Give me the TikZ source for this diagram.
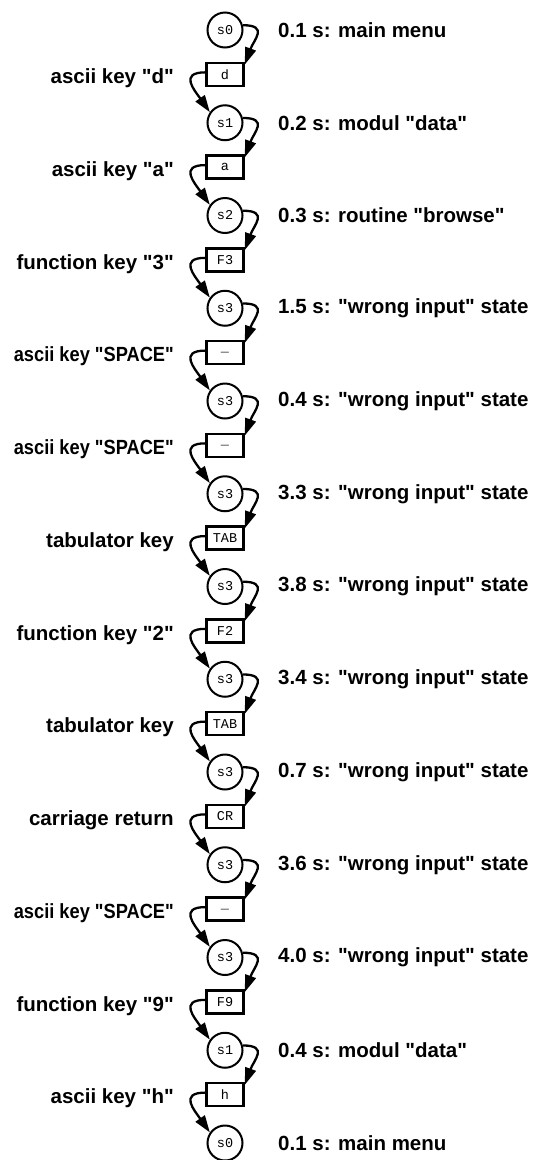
\documentclass[tikz,border=0pt]{standalone}
\usepackage{fontspec}
\usetikzlibrary{arrows.meta}
\newfontfamily\lblfont{Liberation Sans}
\newfontfamily\keyfont{Liberation Mono}
\begin{document}
\begin{tikzpicture}[x=1pt,y=1pt,
  state/.style={circle, draw, line width=2pt, minimum size=35pt, inner sep=0pt,
    font=\keyfont\fontsize{13.5}{14}\selectfont},
  keybox/.style={rectangle, draw, line width=2.6pt, minimum width=37pt, minimum height=23pt, inner sep=0pt,
    font=\keyfont\fontsize{13.5}{14}\selectfont},
  rlabel/.style={anchor=west, inner sep=0pt, font=\lblfont\bfseries\fontsize{20.5}{22}\selectfont},
  llabel/.style={anchor=east, inner sep=0pt, font=\lblfont\bfseries\fontsize{20.5}{22}\selectfont},
  arr/.style={line width=2.3pt, -{Triangle[length=17pt,width=11pt]}}]
\useasboundingbox (0,0) rectangle (537,-1160);
\def\cx{225}
\def\spc{{\addfontfeature{FakeStretch=0.89}ascii key "SPACE"}}
\foreach \i/\s/\t in {0/s0/0.1 s: main menu,
  1/s1/0.2 s: modul "data",
  2/s2/0.3 s: routine "browse",
  3/s3/1.5 s: "wrong input" state,
  4/s3/0.4 s: "wrong input" state,
  5/s3/3.3 s: "wrong input" state,
  6/s3/3.8 s: "wrong input" state,
  7/s3/3.4 s: "wrong input" state,
  8/s3/0.7 s: "wrong input" state,
  9/s3/3.6 s: "wrong input" state,
  10/s3/4.0 s: "wrong input" state,
  11/s1/0.4 s: modul "data",
  12/s0/0.1 s: main menu}{
  \node[state] (s\i) at (\cx,{-(30+92.75*\i)}) {\s};
  \node[rlabel] (r\i) at (278,{-(30+92.75*\i)}) {\t};
}
\foreach \i/\k/\t in {0/d/ascii key "d",
  1/a/ascii key "a",
  2/F3/function key "3",
  3/\_/\spc,
  4/\_/\spc,
  5/TAB/tabulator key,
  6/F2/function key "2",
  7/TAB/tabulator key,
  8/CR/carriage return,
  9/\_/\spc,
  10/F9/function key "9",
  11/h/ascii key "h"}{
  \node[keybox] (k\i) at (\cx,{-(30+92.75*(\i+0.5)-2)}) {\k};
  \node[llabel] (l\i) at (174,{-(30+92.75*(\i+0.5)+2)}) {\t};
}
\foreach \i [evaluate=\i as \j using int(\i+1)] in {0,...,11}{
  \draw[arr] (s\i.15) to[out=0,in=70,looseness=1.7] ([yshift=-3pt]k\i.north east);
  \draw[arr] ([yshift=2pt]k\i.west) to[out=180,in=125,looseness=1.7] (s\j.145);
}
\end{tikzpicture}
\end{document}
